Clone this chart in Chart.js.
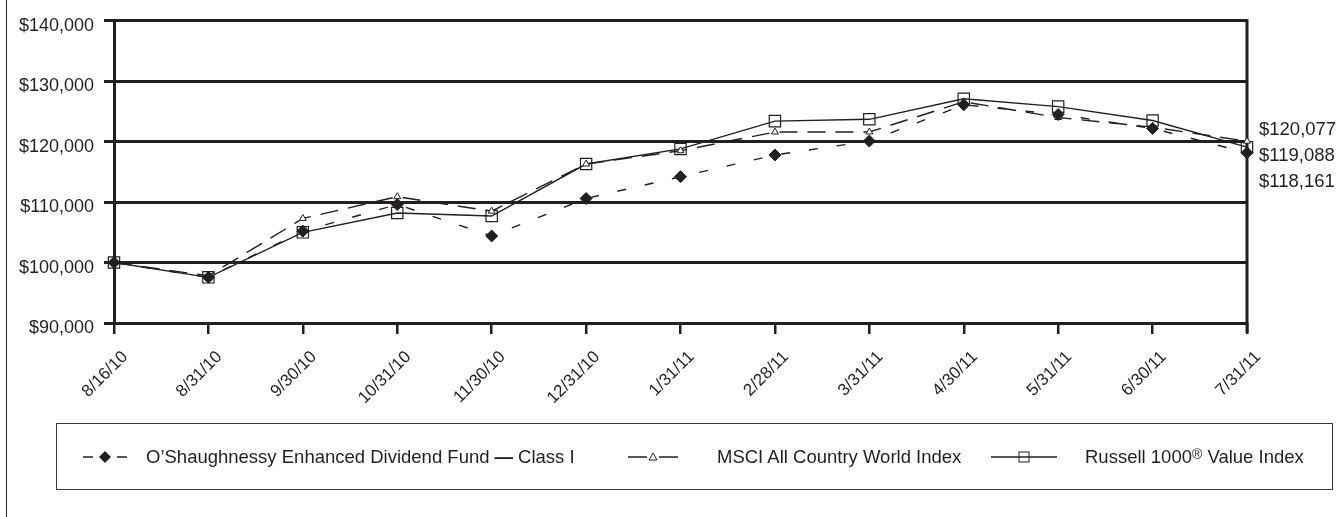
<!DOCTYPE html>
<html>
<head>
<meta charset="utf-8">
<script src="https://cdn.jsdelivr.net/npm/chart.js@4.4.1/dist/chart.umd.min.js"></script>
<style>
  html, body { margin: 0; padding: 0; background: #fff; }
  #wrap { position: relative; width: 1341px; height: 517px; }
  #frame { position: absolute; left: 6px; top: 0; height: 517px; border-left: 1.5px solid #231f20; }
  #legend {
    position: absolute; left: 56px; top: 423px; width: 1277px; height: 67px;
    border: 1.5px solid #3a3a3a; box-sizing: border-box;
    font-family: "Liberation Sans", Arial, sans-serif;
    font-size: 18.5px; color: #231f20;
  }
  .item { position: absolute; top: 0; height: 100%; display: flex; align-items: center; white-space: nowrap; }
  sup { font-size: 14px; position: relative; top: -3px; }
</style>
</head>
<body>
<div id="wrap">
  <canvas id="chart" width="1341" height="517"></canvas>
  <div id="frame"></div>
  <div id="legend">
    <div class="item" style="left:25px">
      <svg width="46" height="14"><line x1="1" y1="7" x2="11" y2="7" stroke="#231f20" stroke-width="1.5"/><path d="M23 1 L29 7 L23 13 L17 7 Z" fill="#231f20"/><line x1="35" y1="7" x2="45" y2="7" stroke="#231f20" stroke-width="1.5"/></svg>
    </div>
    <div class="item" style="left:89px">O’Shaughnessy Enhanced Dividend Fund <b style="margin:0 5px">—</b> Class I</div>
    <div class="item" style="left:570px">
      <svg width="52" height="14"><line x1="1" y1="7" x2="20" y2="7" stroke="#231f20" stroke-width="1.5"/><path d="M26 3 L30 10 L22 10 Z" fill="#fff" stroke="#231f20" stroke-width="1"/><line x1="32" y1="7" x2="51" y2="7" stroke="#231f20" stroke-width="1.5"/></svg>
    </div>
    <div class="item" style="left:660px">MSCI All Country World Index</div>
    <div class="item" style="left:933px">
      <svg width="68" height="14"><line x1="1" y1="7" x2="67" y2="7" stroke="#231f20" stroke-width="1.5"/><rect x="29" y="2" width="10" height="10" fill="none" stroke="#231f20" stroke-width="1"/></svg>
    </div>
    <div class="item" style="left:1028px">Russell 1000<sup>®</sup>&nbsp;Value Index</div>
  </div>
</div>
<script>
const dates = ["8/16/10", "8/31/10", "9/30/10", "10/31/10", "11/30/10", "12/31/10",
  "1/31/11", "2/28/11", "3/31/11", "4/30/11", "5/31/11", "6/30/11", "7/31/11"];
const fundValues = [100000, 97550, 105200, 109600, 104400, 110600, 114200, 117800, 120100, 126100, 124500, 122200, 118161];
const msciValues = [100000, 97800, 107300, 110900, 108500, 116300, 118500, 121600, 121600, 126600, 124000, 122400, 120077];
const russellValues = [100000, 97550, 105000, 108200, 107700, 116300, 118800, 123400, 123700, 127100, 125800, 123500, 119088];
const yTicks = [90000, 100000, 110000, 120000, 130000, 140000];
const endLabels = ["$120,077", "$119,088", "$118,161"];

const ink = "#231f20";
const fmt = v => "$" + v.toLocaleString("en-US");

// right border of the plot and final values beside it
const extras = {
  id: "extras",
  beforeDatasetsDraw(chart) {
    const { ctx, chartArea } = chart;
    ctx.save();
    ctx.strokeStyle = ink;
    ctx.lineWidth = 3;
    ctx.beginPath();
    ctx.moveTo(chartArea.right, chartArea.top - 1.5);
    ctx.lineTo(chartArea.right, chartArea.bottom + 10);
    ctx.stroke();
    ctx.restore();
  },
  afterDraw(chart) {
    const { ctx, chartArea, scales } = chart;
    const top = scales.y.getPixelForValue(msciValues[msciValues.length - 1]) - 11;
    ctx.save();
    ctx.fillStyle = ink;
    ctx.font = "18.5px 'Liberation Sans', Arial, sans-serif";
    ctx.textBaseline = "middle";
    ctx.textAlign = "left";
    endLabels.forEach((t, i) => ctx.fillText(t, chartArea.right + 12, top + i * 26));
    ctx.restore();
  }
};

new Chart(document.getElementById("chart"), {
  type: "line",
  data: {
    labels: dates,
    datasets: [
      {
        label: "O’Shaughnessy Enhanced Dividend Fund — Class I",
        data: fundValues,
        borderColor: ink, borderWidth: 1.4, borderDash: [9, 19],
        pointStyle: "rectRot", pointRadius: 6, pointBackgroundColor: ink, pointBorderColor: ink,
        pointBorderWidth: 1
      },
      {
        label: "MSCI All Country World Index",
        data: msciValues,
        borderColor: ink, borderWidth: 1.4, borderDash: [18, 10],
        pointStyle: "triangle", pointRadius: 4, pointBackgroundColor: "#fff", pointBorderColor: ink,
        pointBorderWidth: 1
      },
      {
        label: "Russell 1000® Value Index",
        data: russellValues,
        borderColor: ink, borderWidth: 1.4,
        pointStyle: "rect", pointRadius: 8, pointBackgroundColor: "rgba(0,0,0,0)", pointBorderColor: ink,
        pointBorderWidth: 1.2
      }
    ]
  },
  options: {
    responsive: false,
    animation: false,
    layout: { padding: { top: 17, right: 94, left: 0, bottom: 0 } },
    plugins: { legend: { display: false }, tooltip: { enabled: false } },
    elements: { line: { tension: 0 } },
    scales: {
      x: {
        grid: { drawOnChartArea: false, drawTicks: true, tickLength: 11, color: ink, lineWidth: 2.5 },
        border: { color: ink, width: 3 },
        ticks: {
          autoSkip: false, minRotation: 45, maxRotation: 45, padding: 13, labelOffset: 11, color: ink,
          font: { family: "'Liberation Sans', Arial, sans-serif", size: 17 }
        },
        afterFit: s => { s.height = 194; }
      },
      y: {
        min: 90000, max: 140000,
        afterBuildTicks: s => { s.ticks = yTicks.map(v => ({ value: v })); },
        grid: { color: ink, lineWidth: 3, tickLength: 10 },
        border: { color: ink, width: 3 },
        ticks: {
          callback: v => fmt(v), padding: 10, labelOffset: 5, color: ink,
          font: { family: "'Liberation Sans', Arial, sans-serif", size: 18 }
        },
        afterFit: s => { s.width = 114; }
      }
    }
  },
  plugins: [extras]
});
</script>
</body>
</html>
